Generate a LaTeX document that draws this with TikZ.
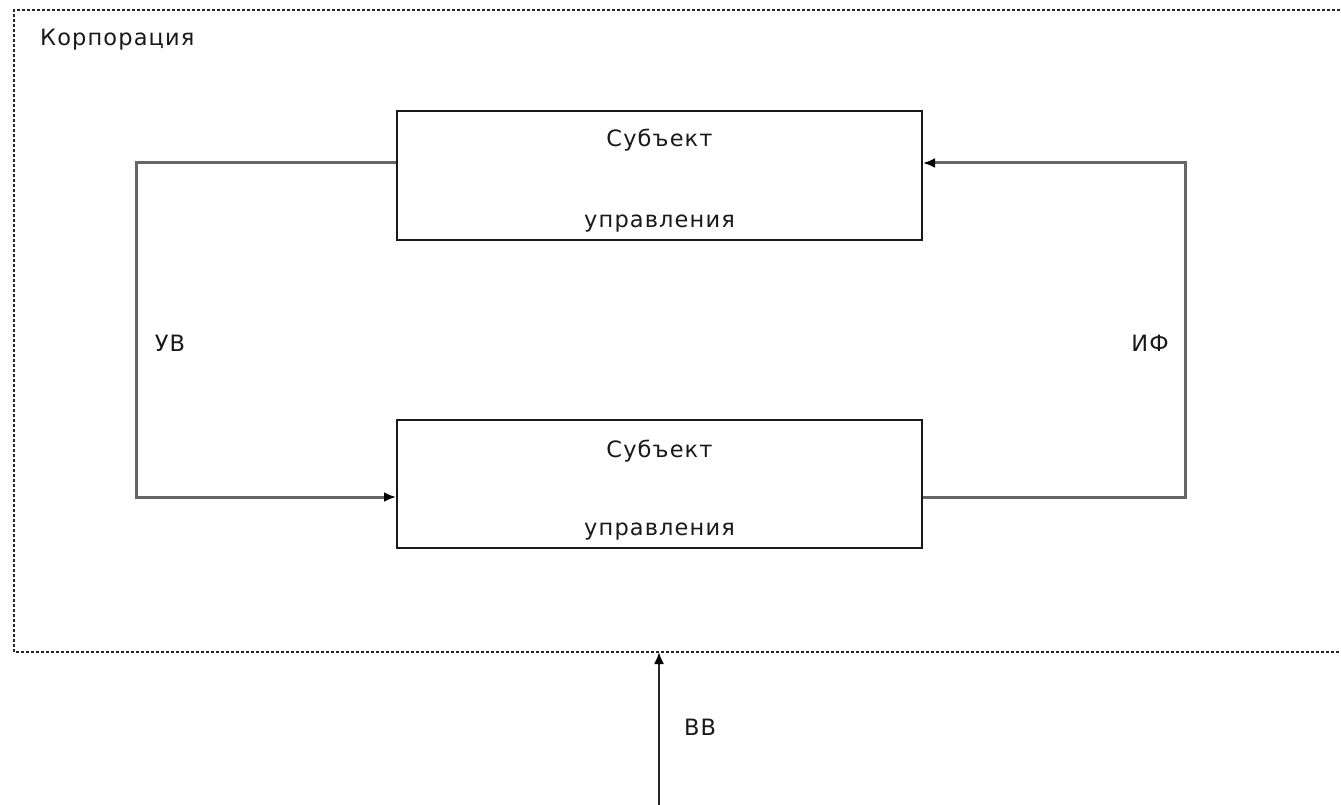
\documentclass[tikz,border=0pt]{standalone}
\usepackage{fontspec}
\setmainfont{DejaVu Sans}[LetterSpace=5]
\usetikzlibrary{arrows.meta,calc}
\begin{document}
\begin{tikzpicture}[x=1pt,y=-1pt,
  box/.style={draw=black!90,line width=2pt,minimum width=525pt,minimum height=128pt,inner sep=0pt},
  conn/.style={draw=black!60,line width=3pt},
  arr/.style={-{Latex[length=12pt,width=10pt,black]}},
  txt/.style={font=\fontsize{22.5}{26}\selectfont,text=black!90,inner sep=0pt},
  corp/.style={draw=black!85,line width=1.4pt,dash pattern=on 3pt off 2pt}]
\useasboundingbox (0,0) rectangle (1341,805);
% container (right side runs off the picture)
\draw[corp] (1345,10) -- (14,10) -- (14,652) -- (1345,652);
\coordinate (corpbot) at (659,652);
\coordinate (vvstart) at (659,806);
\node[txt,anchor=base west] (corpname) at (40,46) {Корпорация};
% boxes
\node[box] (top) at (659.5,175.5) {};
\node[box] (bot) at (659.5,484) {};
\node[txt,anchor=base] (topa) at (659.5,147) {Субъект};
\node[txt,anchor=base] (topb) at (659.5,228) {управления};
\node[txt,anchor=base] (bota) at (659.5,457) {Субъект};
\node[txt,anchor=base] (botb) at (659.5,535) {управления};
% corners
\coordinate (lc) at (136,330);
\coordinate (rc) at (1185,330);
% connectors
\draw[conn,arr] (top.west |- 0,163) -| (lc) |- (bot.west |- 0,497);
\draw[conn,arr] (bot.east |- 0,497) -| (rc) |- (top.east |- 0,163);
\draw[conn,arr,draw=black!85,line width=2pt] (vvstart) -- (corpbot);
% labels
\node[txt] (uv) at (170,343) {УВ};
\node[txt] (if) at (1150,343) {ИФ};
\node[txt] (vv) at (700,727) {ВВ};
\end{tikzpicture}
\end{document}
